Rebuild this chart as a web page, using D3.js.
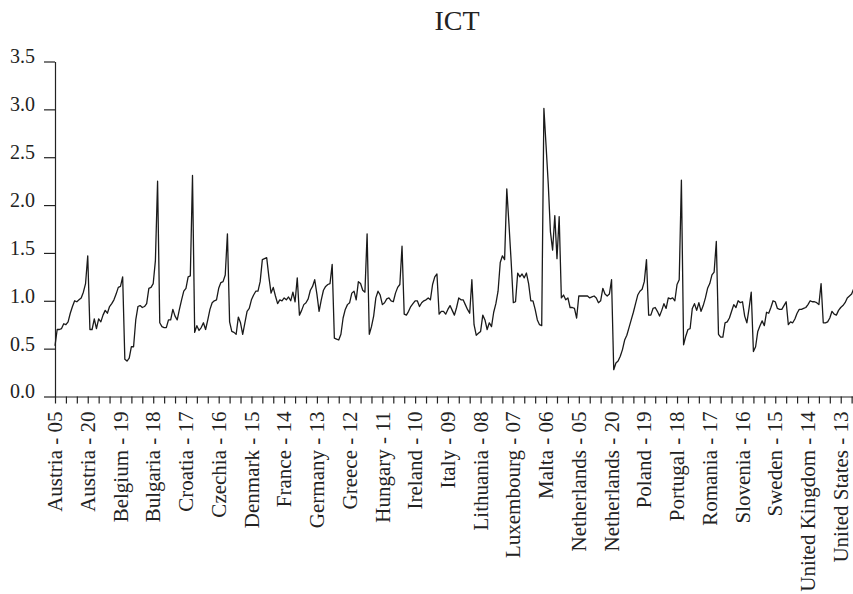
<!DOCTYPE html>
<meta charset="utf-8">
<script src="https://d3js.org/d3.v7.min.js"></script>
<style>
    body { margin: 0; background: #fff; }
    svg text { font-family: "Liberation Serif", "Times New Roman", serif; fill: #222; }
    .axis path, .axis line { stroke: #222; stroke-width: 1.2px; }
</style>
<body>
<svg width="853" height="594"></svg>
<script>
    // panel: 23 countries x 16 years (2005-2020)
    var countries = ["Austria", "Belgium", "Bulgaria", "Croatia", "Czechia", "Denmark", "France",
        "Germany", "Greece", "Hungary", "Ireland", "Italy", "Lithuania", "Luxembourg", "Malta",
        "Netherlands", "Poland", "Portugal", "Romania", "Slovenia", "Sweden", "United Kingdom", "United States"];
    var years = ["05", "06", "07", "08", "09", "10", "11", "12", "13", "14", "15", "16", "17", "18", "19", "20"];

    // ICT values, one row per country, in the order above
    var ictValues = [
        0.53, 0.70, 0.70, 0.71, 0.76, 0.75, 0.78, 0.87, 0.94, 1.00, 0.99, 1.01, 1.03, 1.09, 1.18, 1.47,
        0.70, 0.70, 0.81, 0.71, 0.81, 0.78, 0.85, 0.90, 0.87, 0.94, 0.97, 1.01, 1.07, 1.14, 1.15, 1.25,
        0.39, 0.37, 0.40, 0.52, 0.52, 0.80, 0.94, 0.95, 0.93, 0.94, 0.97, 1.13, 1.14, 1.18, 1.42, 2.25,
        0.77, 0.73, 0.72, 0.72, 0.80, 0.80, 0.91, 0.84, 0.80, 0.91, 1.01, 1.10, 1.13, 1.25, 1.26, 2.31,
        0.67, 0.74, 0.69, 0.72, 0.77, 0.70, 0.80, 0.91, 0.98, 1.00, 1.01, 1.13, 1.19, 1.20, 1.27, 1.70,
        0.78, 0.68, 0.67, 0.65, 0.83, 0.77, 0.65, 0.77, 0.89, 0.92, 1.01, 1.06, 1.10, 1.10, 1.20, 1.43,
        1.44, 1.45, 1.25, 1.08, 1.14, 1.05, 0.97, 1.01, 1.00, 1.03, 1.01, 1.04, 1.00, 1.09, 0.99, 1.24,
        0.85, 0.90, 0.96, 0.98, 1.02, 1.11, 1.15, 1.22, 1.07, 0.89, 1.01, 1.11, 1.15, 1.17, 1.18, 1.38,
        0.61, 0.60, 0.59, 0.65, 0.82, 0.91, 0.96, 0.98, 1.08, 1.10, 1.01, 1.20, 1.18, 1.11, 1.09, 1.70,
        0.65, 0.73, 0.84, 1.03, 1.10, 1.06, 0.96, 0.98, 1.02, 1.03, 1.00, 0.99, 1.08, 1.14, 1.17, 1.57,
        0.86, 0.85, 0.89, 0.94, 0.97, 1.00, 1.00, 0.94, 0.98, 1.00, 1.01, 1.03, 1.01, 1.17, 1.25, 1.28,
        0.86, 0.89, 0.89, 0.86, 0.91, 0.95, 0.90, 0.85, 0.93, 1.03, 1.01, 1.01, 0.96, 0.91, 0.87, 1.22,
        0.75, 0.64, 0.66, 0.68, 0.85, 0.80, 0.70, 0.77, 0.73, 0.88, 0.97, 1.10, 1.40, 1.47, 1.43, 2.17,
        1.80, 1.41, 0.98, 0.99, 1.29, 1.25, 1.28, 1.24, 1.29, 1.18, 1.00, 1.00, 0.91, 0.80, 0.75, 0.74,
        3.01, 2.62, 2.22, 1.72, 1.53, 1.89, 1.44, 1.88, 1.03, 1.06, 1.01, 1.03, 0.93, 0.93, 0.92, 0.82,
        1.05, 1.05, 1.05, 1.05, 1.05, 1.03, 1.04, 1.05, 1.03, 0.98, 1.00, 1.13, 1.07, 1.05, 1.07, 1.22,
        0.28, 0.35, 0.37, 0.42, 0.49, 0.59, 0.64, 0.72, 0.80, 0.88, 0.97, 1.06, 1.10, 1.12, 1.20, 1.43,
        0.85, 0.85, 0.92, 0.93, 0.89, 0.84, 0.90, 0.97, 0.92, 1.03, 1.02, 1.03, 1.00, 1.17, 1.22, 2.26,
        0.54, 0.63, 0.70, 0.71, 0.92, 0.97, 0.90, 0.98, 0.89, 0.95, 1.03, 1.13, 1.18, 1.27, 1.30, 1.62,
        0.65, 0.62, 0.62, 0.77, 0.78, 0.82, 0.89, 0.96, 0.93, 1.00, 0.98, 0.99, 0.84, 0.77, 0.92, 1.09,
        0.47, 0.52, 0.68, 0.74, 0.79, 0.74, 0.88, 0.87, 0.93, 1.00, 0.99, 0.92, 0.91, 0.91, 0.95, 0.99,
        0.75, 0.78, 0.77, 0.81, 0.87, 0.91, 0.91, 0.92, 0.93, 0.96, 1.00, 0.99, 0.99, 0.98, 0.96, 1.18,
        0.77, 0.77, 0.78, 0.82, 0.89, 0.86, 0.85, 0.90, 0.93, 0.95, 0.98, 1.03, 1.05, 1.07, 1.13, 1.14
    ];

    var yTicks = [0, 0.5, 1.0, 1.5, 2.0, 2.5, 3.0, 3.5];
    var title = "ICT";

    var svg = d3.select("svg");

    var n = ictValues.length;
    var x = d3.scaleLinear().domain([0, n - 1]).range([55, 856]);
    var y = d3.scaleLinear().domain([0, 3.5]).range([396.5, 61.5]);

    // titulo
    svg.append("text")
        .attr("x", 457)
        .attr("y", 30)
        .attr("text-anchor", "middle")
        .style("font-size", "28px")
        .text(title);

    // eje y
    var yAxis = svg.append("g")
        .attr("class", "axis")
        .attr("transform", "translate(55,0)")
        .call(d3.axisLeft(y).tickValues(yTicks).tickSize(11).tickSizeOuter(0)
            .tickPadding(9).tickFormat(d3.format(".1f")));
    yAxis.selectAll("text")
        .attr("dy", "0.07em")
        .style("font-size", "20px");

    // eje x: marcas cada 5 observaciones
    svg.append("g")
        .attr("class", "axis")
        .attr("transform", "translate(0," + y(0) + ")")
        .call(d3.axisBottom(x).tickValues(d3.range(0, n, 5)).tickSize(7).tickSizeOuter(0).tickFormat(""));

    // etiquetas cada 15 observaciones
    svg.append("g")
        .selectAll("text")
        .data(d3.range(0, n, 15))
        .enter()
        .append("text")
        .attr("transform", function (i) { return "translate(" + x(i) + "," + (y(0) + 15) + ") rotate(-90)"; })
        .attr("dy", "0.34em")
        .attr("text-anchor", "end")
        .style("font-size", "21px")
        .text(function (i) { return countries[Math.floor(i / 16)] + " - " + years[i % 16]; });

    // linea
    var line = d3.line()
        .x(function (d, i) { return x(i); })
        .y(function (d) { return y(d); });

    svg.append("path")
        .datum(ictValues)
        .attr("fill", "none")
        .attr("stroke", "#1a1a1a")
        .attr("stroke-width", 1.3)
        .attr("stroke-linejoin", "round")
        .attr("d", line);
</script>
</body>
